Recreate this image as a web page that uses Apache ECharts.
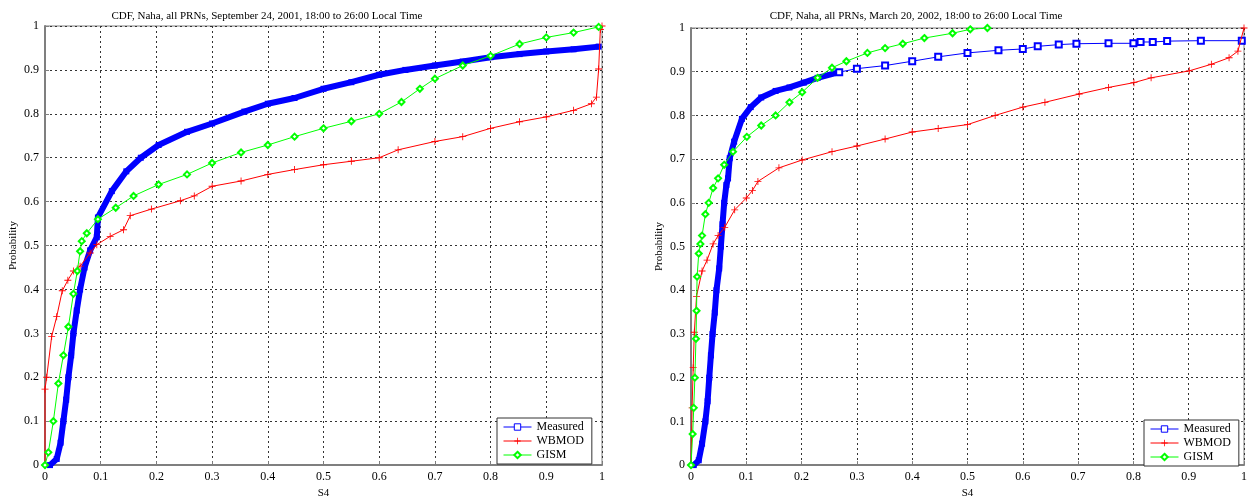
<!DOCTYPE html>
<html>
<head>
<meta charset="utf-8">
<script src="https://cdn.jsdelivr.net/npm/echarts@6/dist/echarts.min.js"></script>
<style>
  html, body { margin: 0; padding: 0; background: #fff; }
  #chart { width: 1250px; height: 504px; }
</style>
</head>
<body>
<div id="chart"></div>
<script>
// titles / names
var leftTitle = "CDF, Naha, all PRNs, September 24, 2001, 18:00 to 26:00 Local Time";
var rightTitle = "CDF, Naha, all PRNs, March 20, 2002, 18:00 to 26:00 Local Time";
var seriesNames = ["Measured", "WBMOD", "GISM"];
var tickValues = [0, 0.1, 0.2, 0.3, 0.4, 0.5, 0.6, 0.7, 0.8, 0.9, 1];

// left panel (Sep 24, 2001) - [S4, probability]
var leftMeasured = [
  [0.009, 0], [0.021, 0.014], [0.028, 0.051], [0.033, 0.1], [0.038, 0.149],
  [0.042, 0.2], [0.047, 0.25], [0.051, 0.3], [0.057, 0.352], [0.063, 0.4],
  [0.071, 0.45], [0.081, 0.489], [0.093, 0.519], [0.095, 0.564], [0.12, 0.624],
  [0.146, 0.669], [0.172, 0.7], [0.204, 0.729], [0.255, 0.759], [0.3, 0.778],
  [0.358, 0.805], [0.4, 0.823], [0.448, 0.836], [0.5, 0.857], [0.55, 0.872],
  [0.6, 0.889], [0.647, 0.9], [0.7, 0.91], [0.75, 0.919], [0.8, 0.929],
  [0.852, 0.936], [0.9, 0.942], [0.949, 0.947], [0.994, 0.953]
];
var leftWbmod = [
  [0, 0], [0, 0.173], [0.003, 0.2], [0.012, 0.293], [0.021, 0.338], [0.031, 0.397],
  [0.041, 0.421], [0.051, 0.442], [0.063, 0.453], [0.081, 0.483], [0.093, 0.502],
  [0.117, 0.521], [0.141, 0.536], [0.153, 0.568], [0.191, 0.583], [0.243, 0.602],
  [0.268, 0.613], [0.3, 0.635], [0.352, 0.647], [0.4, 0.662], [0.448, 0.673],
  [0.5, 0.684], [0.55, 0.692], [0.6, 0.7], [0.634, 0.718], [0.7, 0.737],
  [0.75, 0.748], [0.8, 0.767], [0.852, 0.782], [0.9, 0.793], [0.949, 0.808],
  [0.981, 0.823], [0.99, 0.838], [0.994, 0.902], [0.997, 0.992], [1, 1]
];
var leftGism = [
  [0, 0], [0.006, 0.029], [0.015, 0.1], [0.024, 0.186], [0.033, 0.25],
  [0.042, 0.315], [0.051, 0.39], [0.058, 0.442], [0.063, 0.487], [0.066, 0.51],
  [0.075, 0.528], [0.095, 0.56], [0.127, 0.586], [0.159, 0.613], [0.204, 0.639],
  [0.255, 0.662], [0.3, 0.688], [0.352, 0.712], [0.4, 0.729], [0.448, 0.748],
  [0.5, 0.767], [0.55, 0.783], [0.6, 0.8], [0.64, 0.827], [0.673, 0.857],
  [0.7, 0.88], [0.75, 0.91], [0.8, 0.932], [0.852, 0.959], [0.9, 0.974],
  [0.949, 0.985], [0.994, 0.998]
];

// right panel (Mar 20, 2002)
var rightMeasured = [
  [0.005, 0], [0.014, 0.011], [0.02, 0.049], [0.026, 0.1], [0.03, 0.146],
  [0.033, 0.2], [0.036, 0.251], [0.039, 0.3], [0.043, 0.349], [0.046, 0.4],
  [0.051, 0.45], [0.054, 0.5], [0.057, 0.551], [0.06, 0.6], [0.064, 0.641],
  [0.067, 0.656], [0.07, 0.702], [0.078, 0.74], [0.092, 0.792], [0.108, 0.819],
  [0.127, 0.841], [0.153, 0.856], [0.178, 0.864], [0.204, 0.875], [0.229, 0.886],
  [0.268, 0.899], [0.3, 0.907], [0.351, 0.914], [0.4, 0.924], [0.447, 0.934],
  [0.5, 0.943], [0.556, 0.949], [0.6, 0.952], [0.627, 0.958], [0.665, 0.962],
  [0.697, 0.964], [0.755, 0.965], [0.8, 0.965], [0.813, 0.968], [0.835, 0.968],
  [0.861, 0.97], [0.922, 0.971], [0.996, 0.971]
];
var rightWbmod = [
  [0, 0], [0.002, 0.131], [0.004, 0.223], [0.006, 0.304], [0.01, 0.386],
  [0.02, 0.444], [0.029, 0.469], [0.04, 0.506], [0.049, 0.525], [0.061, 0.544],
  [0.079, 0.584], [0.1, 0.611], [0.111, 0.628], [0.121, 0.649], [0.159, 0.68],
  [0.201, 0.698], [0.255, 0.717], [0.3, 0.73], [0.351, 0.746], [0.4, 0.762],
  [0.447, 0.77], [0.5, 0.779], [0.55, 0.8], [0.6, 0.819], [0.64, 0.83],
  [0.702, 0.849], [0.755, 0.864], [0.801, 0.875], [0.832, 0.886], [0.901, 0.902],
  [0.941, 0.917], [0.973, 0.932], [0.989, 0.947], [1, 1]
];
var rightGism = [
  [0, 0], [0.003, 0.071], [0.005, 0.131], [0.007, 0.2], [0.009, 0.289],
  [0.01, 0.353], [0.011, 0.431], [0.014, 0.484], [0.017, 0.506], [0.02, 0.525],
  [0.026, 0.574], [0.032, 0.6], [0.04, 0.634], [0.049, 0.656], [0.06, 0.687],
  [0.076, 0.717], [0.101, 0.751], [0.127, 0.777], [0.153, 0.8], [0.178, 0.83],
  [0.201, 0.853], [0.229, 0.886], [0.255, 0.909], [0.281, 0.924], [0.319, 0.943],
  [0.351, 0.954], [0.383, 0.964], [0.422, 0.977], [0.473, 0.988], [0.505, 0.997],
  [0.536, 1]
];

var FONT = "Liberation Serif";
var plusPath = "path://M4.4,0H5.6V4.4H10V5.6H5.6V10H4.4V5.6H0V4.4H4.4Z";

function fmt(v) {
  return String(+v.toFixed(1));
}

function makeGrid(box) {
  return {
    left: box.left, top: box.top, width: box.width, height: box.height,
    show: true, borderColor: "#7f7f7f", borderWidth: 1, backgroundColor: "#fff"
  };
}

function makeAxis(idx, isX) {
  return {
    type: "value", gridIndex: idx, min: 0, max: 1, interval: 0.1,
    name: isX ? "S4" : "Probability",
    nameLocation: "middle",
    nameGap: isX ? 19 : 26,
    nameTextStyle: { fontFamily: FONT, fontSize: 11, color: "#000" },
    axisLine: { show: true, onZero: false, lineStyle: { color: "#7f7f7f", width: 2 } },
    axisTick: { show: true, inside: true, length: 4, lineStyle: { color: "#7f7f7f" } },
    axisLabel: { fontFamily: FONT, fontSize: 12, color: "#000", formatter: fmt, margin: 6 },
    splitLine: { show: true, lineStyle: { color: "#333", type: [2, 3], width: 1 } }
  };
}

// measured curves are so dense the squares merge into a thick band
function measuredSeries(data, idx, thickTo) {
  var dense = data.filter(function (d) { return d[0] <= thickTo; });
  var sparse = data.filter(function (d) { return d[0] >= dense[dense.length - 1][0]; });
  var out = [{
    name: "Measured", type: "line", xAxisIndex: idx, yAxisIndex: idx,
    data: dense, symbol: "rect", symbolSize: 6, showSymbol: true,
    lineStyle: { color: "#0000ff", width: 6 },
    itemStyle: { color: "#0000ff" },
    z: 3
  }];
  if (sparse.length > 1) {
    out.push({
      name: "Measured", type: "line", xAxisIndex: idx, yAxisIndex: idx,
      data: sparse, symbol: "emptyRect", symbolSize: 6,
      lineStyle: { color: "#0000ff", width: 1 },
      itemStyle: { color: "#0000ff", borderWidth: 1 },
      z: 3
    });
  }
  return out;
}

function wbmodSeries(data, idx) {
  return {
    name: "WBMOD", type: "line", xAxisIndex: idx, yAxisIndex: idx,
    data: data, symbol: plusPath, symbolSize: 7,
    lineStyle: { color: "#ff0000", width: 1 },
    itemStyle: { color: "#ff0000" },
    z: 4
  };
}

function gismSeries(data, idx) {
  return {
    name: "GISM", type: "line", xAxisIndex: idx, yAxisIndex: idx,
    data: data, symbol: "emptyDiamond", symbolSize: 6,
    lineStyle: { color: "#00ff00", width: 1 },
    itemStyle: { color: "#00ff00", borderWidth: 1 },
    z: 5
  };
}

function makeLegend(left, top) {
  return {
    data: [
      { name: seriesNames[0], lineStyle: { width: 1, color: "#0000ff" },
        itemStyle: { color: "#fff", borderColor: "#0000ff", borderWidth: 1 } },
      { name: seriesNames[1], lineStyle: { width: 1, color: "#ff0000" } },
      { name: seriesNames[2], lineStyle: { width: 1, color: "#00ff00" } }
    ],
    orient: "vertical", left: left, top: top,
    backgroundColor: "#fff", borderColor: "#333", borderWidth: 1,
    padding: [3, 8, 3, 6], itemGap: 2, itemWidth: 28, itemHeight: 8,
    textStyle: { fontFamily: FONT, fontSize: 12, color: "#000" }
  };
}

var chart = echarts.init(document.getElementById("chart"));
chart.setOption({
  animation: false,
  backgroundColor: "#fff",
  title: [
    { text: leftTitle, left: 262, top: 6, textAlign: "center",
      textStyle: { fontFamily: FONT, fontSize: 11, fontWeight: "normal", color: "#000" } },
    { text: rightTitle, left: 911, top: 6, textAlign: "center",
      textStyle: { fontFamily: FONT, fontSize: 11, fontWeight: "normal", color: "#000" } }
  ],
  legend: [makeLegend(497, 418), makeLegend(1144, 420)],
  grid: [
    makeGrid({ left: 45, top: 26, width: 557, height: 443 }),
    makeGrid({ left: 691, top: 28, width: 557, height: 443 })
  ],
  xAxis: [makeAxis(0, true), makeAxis(1, true)],
  yAxis: [makeAxis(0, false), makeAxis(1, false)],
  series: [].concat(
    measuredSeries(leftMeasured, 0, 2),
    [wbmodSeries(leftWbmod, 0), gismSeries(leftGism, 0)],
    measuredSeries(rightMeasured, 1, 0.27),
    [wbmodSeries(rightWbmod, 1), gismSeries(rightGism, 1)]
  )
});
</script>
</body>
</html>
